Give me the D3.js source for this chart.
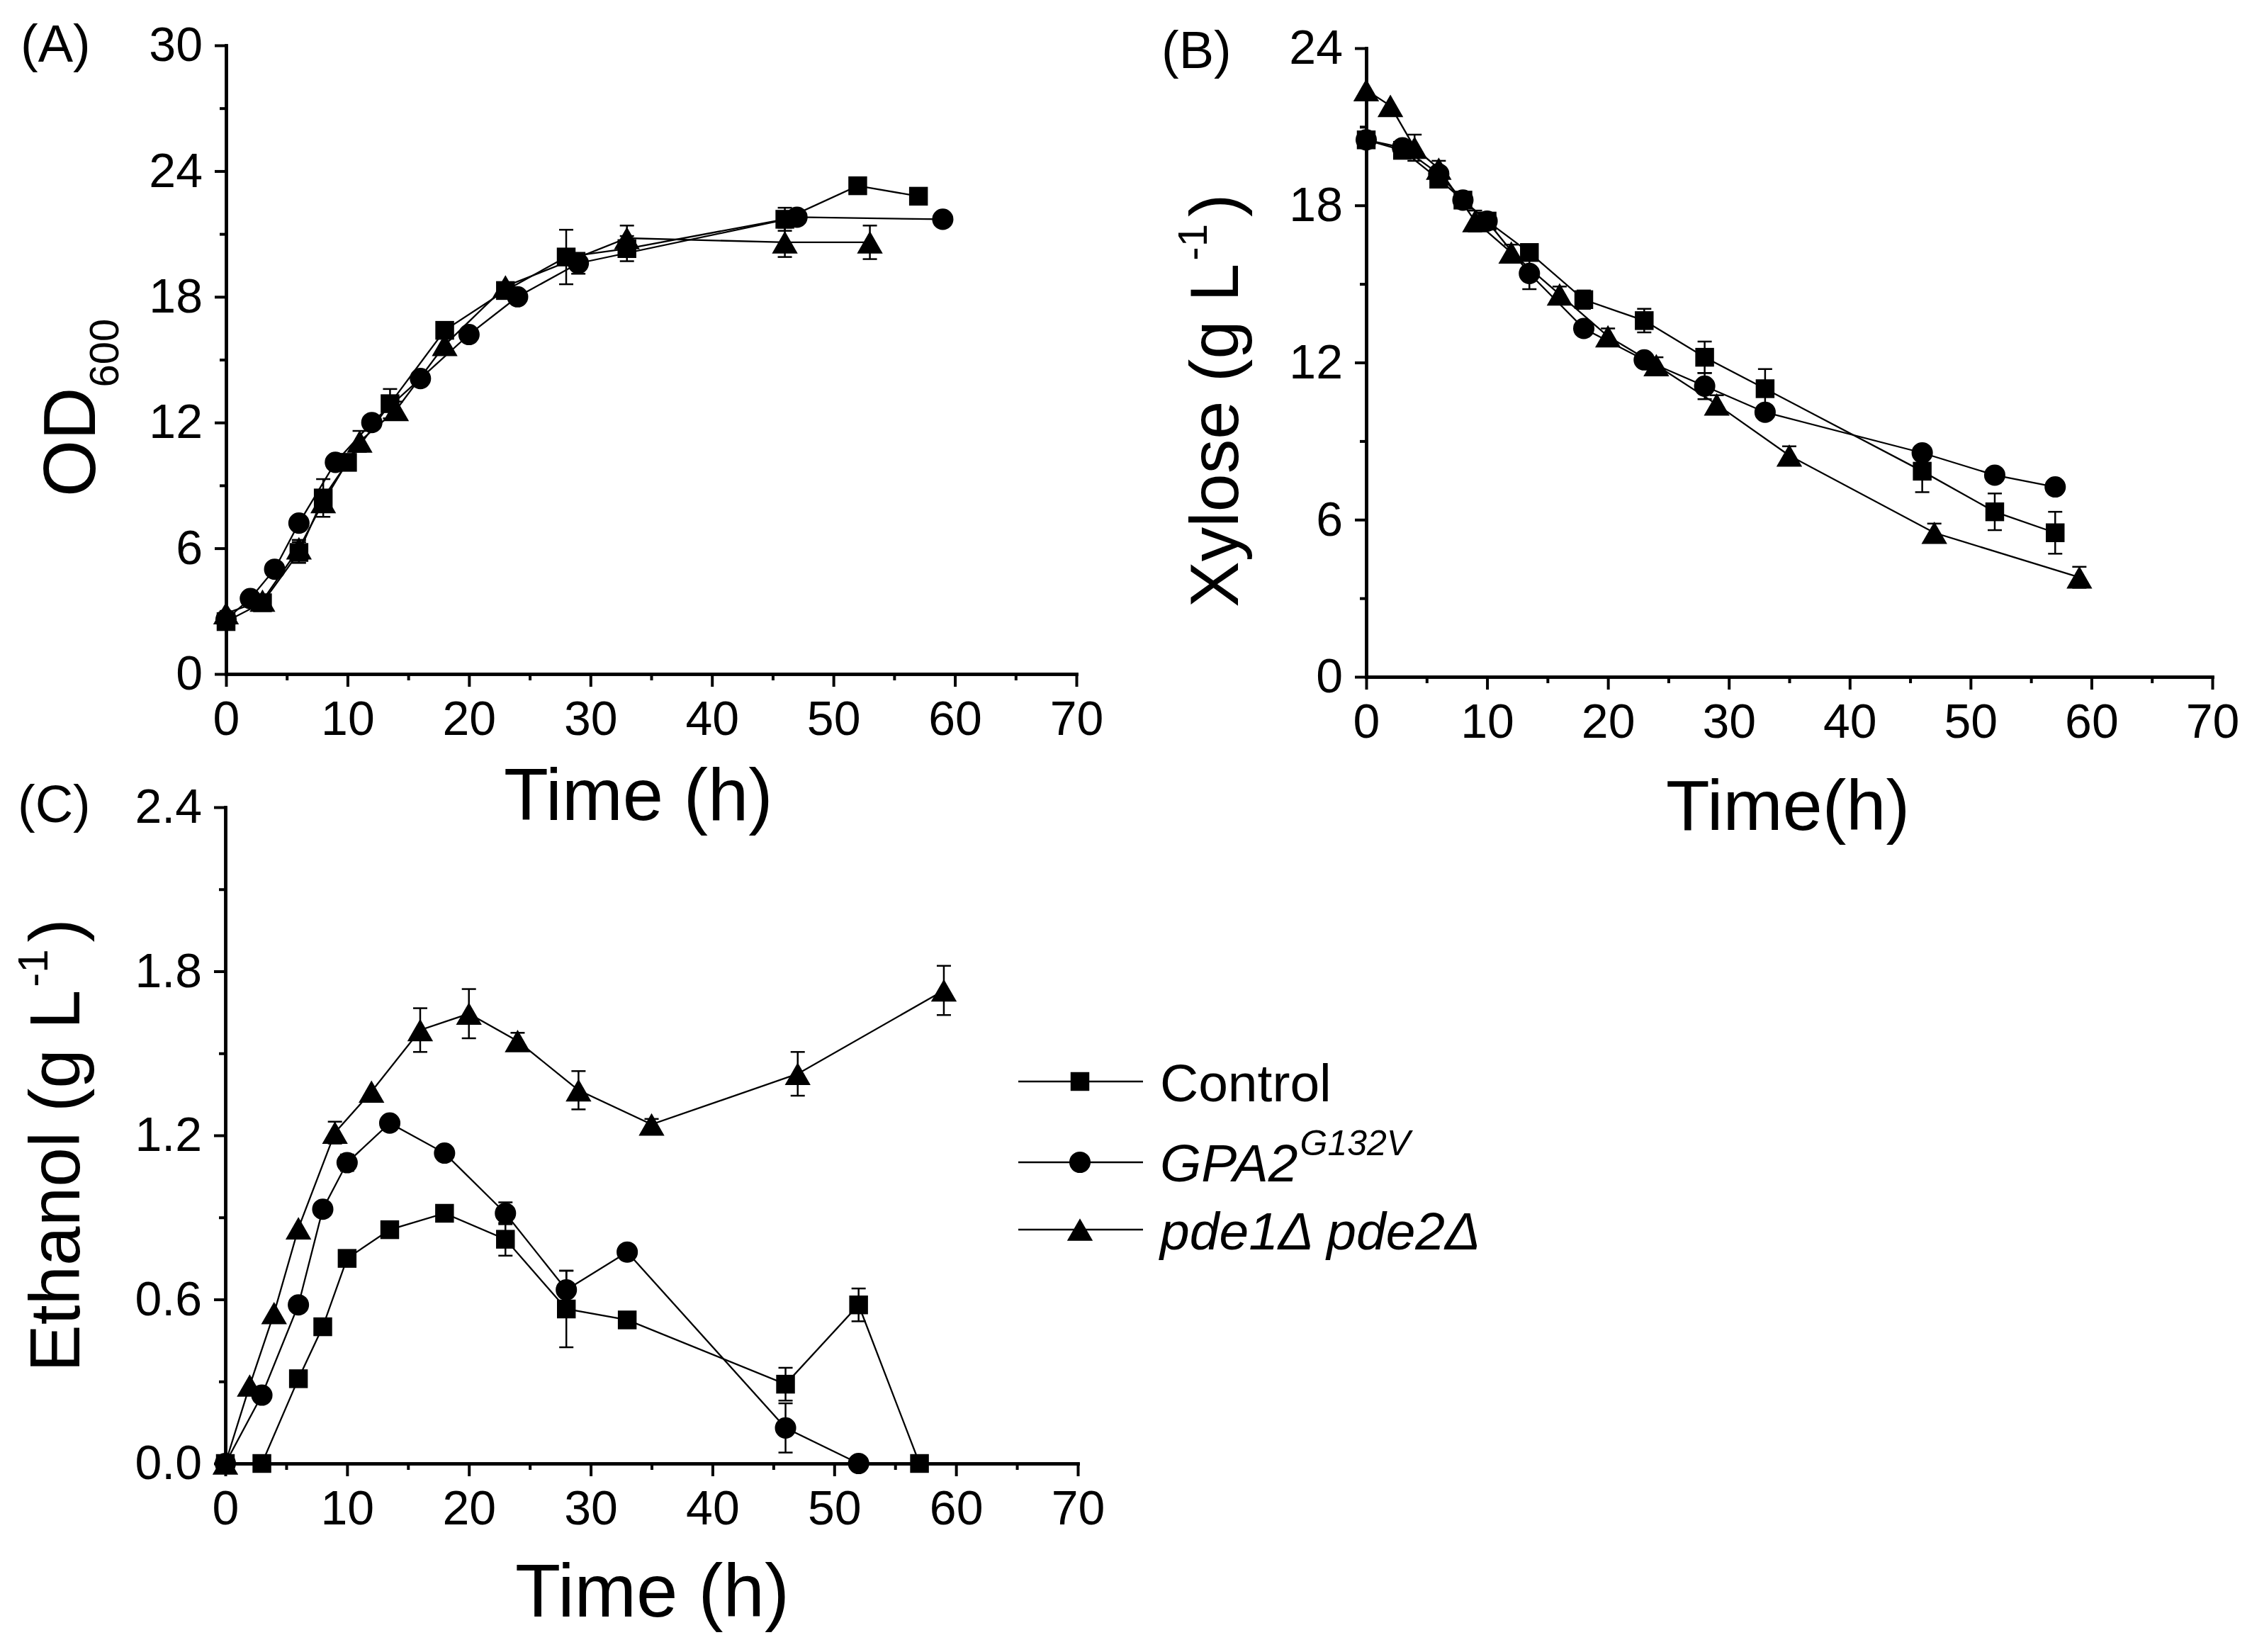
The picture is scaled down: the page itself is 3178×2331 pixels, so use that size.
<!DOCTYPE html>
<html>
<head>
<meta charset="utf-8">
<script src="https://cdn.jsdelivr.net/npm/d3@7"></script>
<style>
  body { margin: 0; background: #fff; }
  svg { display: block; font-family: "Liberation Sans", Arial, sans-serif; }
</style>
</head>
<body>
<script>
// Time axis ticks (shared)
const timeTicks = [0, 10, 20, 30, 40, 50, 60, 70];

// (A) OD600
const odTicks = [0, 6, 12, 18, 24, 30];
const odCtrlT = [0, 3, 6, 8, 10, 13.5, 18, 23, 28, 33, 46, 52, 57];
const odCtrl = [2.5, 3.4, 5.8, 8.4, 10.1, 12.9, 16.4, 18.3, 19.9, 20.3, 21.7, 23.3, 22.8];
const odCtrlErr = [0, 0, 0.5, 0.9, 0, 0.7, 0, 0, 1.3, 0.6, 0.55, 0, 0];
const odGpaT = [0, 2, 4, 6, 9, 12, 16, 20, 24, 29, 47, 59];
const odGpa = [2.6, 3.6, 5.0, 7.2, 10.1, 12.0, 14.1, 16.2, 18.0, 19.6, 21.8, 21.7];
const odGpaErr = [0, 0, 0, 0, 0, 0, 0, 0, 0, 0.5, 0, 0];
const odPdeT = [0, 3, 6, 8, 11, 14, 18, 23, 33, 46, 53];
const odPde = [2.9, 3.5, 6.0, 8.2, 11.1, 12.6, 15.7, 18.5, 20.8, 20.6, 20.6];
const odPdeErr = [0, 0, 0.4, 0, 0.5, 0.4, 0, 0, 0.6, 0.7, 0.8];

// (B) Xylose
const xylTicks = [0, 6, 12, 18, 24];
const xylCtrlT = [0, 3, 6, 8, 10, 13.5, 18, 23, 28, 33, 46, 52, 57];
const xylCtrl = [20.5, 20.1, 19.0, 18.2, 17.4, 16.2, 14.4, 13.6, 12.2, 11.0, 7.85, 6.3, 5.5];
const xylCtrlErr = [0, 0.3, 0, 0, 0, 0, 0.35, 0.45, 0.6, 0.75, 0.8, 0.7, 0.8];
const xylGpaT = [0, 3, 6, 8, 10, 13.5, 18, 23, 28, 33, 46, 52, 57];
const xylGpa = [20.5, 20.2, 19.2, 18.2, 17.4, 15.4, 13.3, 12.1, 11.1, 10.1, 8.55, 7.7, 7.25];
const xylGpaErr = [0, 0, 0, 0, 0, 0.6, 0, 0, 0.5, 0, 0, 0, 0];
const xylPdeT = [0, 2, 4, 6, 9, 12, 16, 20, 24, 29, 35, 47, 59];
const xylPde = [22.4, 21.8, 20.2, 19.4, 17.4, 16.2, 14.6, 13.0, 11.9, 10.4, 8.45, 5.5, 3.8];
const xylPdeErr = [0, 0, 0.5, 0.3, 0.4, 0.3, 0.3, 0.3, 0.3, 0.35, 0.35, 0.35, 0.4];

// (C) Ethanol
const ethTicks = [0, 0.6, 1.2, 1.8, 2.4];
const ethCtrlT = [0, 3, 6, 8, 10, 13.5, 18, 23, 28, 33, 46, 52, 57];
const ethCtrl = [0, 0, 0.31, 0.50, 0.75, 0.855, 0.915, 0.82, 0.565, 0.525, 0.29, 0.58, 0];
const ethCtrlErr = [0, 0, 0, 0, 0, 0, 0, 0.06, 0.14, 0, 0.06, 0.06, 0];
const ethGpaT = [0, 3, 6, 8, 10, 13.5, 18, 23, 28, 33, 46, 52];
const ethGpa = [0, 0.25, 0.58, 0.93, 1.10, 1.245, 1.135, 0.915, 0.635, 0.773, 0.13, 0];
const ethGpaErr = [0, 0, 0, 0, 0.03, 0, 0, 0.04, 0.07, 0, 0.09, 0];
const ethPdeT = [0, 2, 4, 6, 9, 12, 16, 20, 24, 29, 35, 47, 59];
const ethPde = [0, 0.285, 0.55, 0.86, 1.21, 1.36, 1.585, 1.645, 1.545, 1.365, 1.24, 1.425, 1.73];
const ethPdeErr = [0, 0, 0, 0, 0.04, 0, 0.08, 0.09, 0.03, 0.07, 0.02, 0.08, 0.09];

// triangle centred on its bounding box
const boxTriangle = {
  draw(ctx, size) {
    const w = Math.sqrt(size * 2.32);
    const h = w * 0.87;
    ctx.moveTo(0, -h / 2);
    ctx.lineTo(w / 2, h / 2);
    ctx.lineTo(-w / 2, h / 2);
    ctx.closePath();
  }
};
const shapes = {
  ctrl: d3.symbol(d3.symbolSquare, 700),
  gpa: d3.symbol(d3.symbolCircle, 710),
  pde: d3.symbol(boxTriangle, 570)
};

const svg = d3.select("body").append("svg")
  .attr("width", 3178)
  .attr("height", 2331);

svg.append("rect").attr("width", 3178).attr("height", 2331).attr("fill", "#fff");

const zip = (t, v, e) => t.map((d, i) => ({ t: d, v: v[i], e: e[i] }));

const drawPanel = (p) => {
  let x = d3.scaleLinear().domain([0, 70]).range([p.left, p.right]);
  let y = d3.scaleLinear().domain([0, d3.max(p.yTicks)]).range([p.bottom, p.top]);
  let g = svg.append("g");

  // minor ticks
  let yMinor = d3.pairs(p.yTicks).map(([a, b]) => (a + b) / 2);
  let xMinor = d3.pairs(timeTicks).map(([a, b]) => (a + b) / 2);

  g.append("g")
    .attr("transform", `translate(${p.left},0)`)
    .call(d3.axisLeft(y).tickValues(yMinor).tickSize(9).tickSizeOuter(0).tickFormat(""));
  g.append("g")
    .attr("transform", `translate(0,${p.bottom})`)
    .call(d3.axisBottom(x).tickValues(xMinor).tickSize(9).tickSizeOuter(0).tickFormat(""));

  // major ticks + labels
  g.append("g")
    .attr("transform", `translate(${p.left},0)`)
    .call(d3.axisLeft(y).tickValues(p.yTicks).tickSize(16).tickPadding(17)
      .tickSizeOuter(0).tickFormat(p.fmt));
  g.append("g")
    .attr("transform", `translate(0,${p.bottom})`)
    .call(d3.axisBottom(x).tickValues(timeTicks).tickSize(18).tickPadding(20)
      .tickSizeOuter(0).tickFormat(d3.format("d")));

  g.selectAll(".domain").attr("stroke", "#000").attr("stroke-width", 4.5)
    .attr("stroke-linecap", "square");
  g.selectAll(".tick line").attr("stroke", "#000").attr("stroke-width", 4);
  g.selectAll(".tick text").attr("font-size", 68).attr("fill", "#000")
    .attr("font-family", "Liberation Sans, Arial, sans-serif");

  // series
  let line = d3.line().x(d => x(d.t)).y(d => y(d.v));
  p.series.forEach((s) => {
    let pts = zip(s.t, s.v, s.e);
    g.append("path")
      .attr("d", line(pts))
      .attr("fill", "none")
      .attr("stroke", "#000")
      .attr("stroke-width", 2.3);

    let bars = g.append("g").selectAll("g")
      .data(pts.filter(d => d.e > 0))
      .enter().append("g")
      .attr("stroke", "#000")
      .attr("stroke-width", 2.5);
    bars.append("line")
      .attr("x1", d => x(d.t)).attr("x2", d => x(d.t))
      .attr("y1", d => y(d.v - d.e)).attr("y2", d => y(d.v + d.e));
    bars.append("line")
      .attr("x1", d => x(d.t) - 10).attr("x2", d => x(d.t) + 10)
      .attr("y1", d => y(d.v + d.e)).attr("y2", d => y(d.v + d.e));
    bars.append("line")
      .attr("x1", d => x(d.t) - 10).attr("x2", d => x(d.t) + 10)
      .attr("y1", d => y(d.v - d.e)).attr("y2", d => y(d.v - d.e));

    g.append("g").selectAll("path")
      .data(pts)
      .enter().append("path")
      .attr("d", shapes[s.key])
      .attr("transform", d => `translate(${x(d.t)},${y(d.v)})`)
      .attr("fill", "#000");
  });

  // panel letter
  svg.append("text")
    .attr("x", p.letterX).attr("y", p.letterY)
    .attr("font-size", 74)
    .text(p.letter);
};

drawPanel({
  left: 319, right: 1519, top: 64, bottom: 951,
  yTicks: odTicks, fmt: d3.format("d"),
  letter: "(A)", letterX: 29, letterY: 87,
  series: [
    { key: "ctrl", t: odCtrlT, v: odCtrl, e: odCtrlErr },
    { key: "gpa", t: odGpaT, v: odGpa, e: odGpaErr },
    { key: "pde", t: odPdeT, v: odPde, e: odPdeErr }
  ]
});

drawPanel({
  left: 1928, right: 3122, top: 68, bottom: 955,
  yTicks: xylTicks, fmt: d3.format("d"),
  letter: "(B)", letterX: 1639, letterY: 96,
  series: [
    { key: "ctrl", t: xylCtrlT, v: xylCtrl, e: xylCtrlErr },
    { key: "gpa", t: xylGpaT, v: xylGpa, e: xylGpaErr },
    { key: "pde", t: xylPdeT, v: xylPde, e: xylPdeErr }
  ]
});

drawPanel({
  left: 318, right: 1521, top: 1139, bottom: 2065,
  yTicks: ethTicks, fmt: d3.format(".1f"),
  letter: "(C)", letterX: 25, letterY: 1160,
  series: [
    { key: "ctrl", t: ethCtrlT, v: ethCtrl, e: ethCtrlErr },
    { key: "gpa", t: ethGpaT, v: ethGpa, e: ethGpaErr },
    { key: "pde", t: ethPdeT, v: ethPde, e: ethPdeErr }
  ]
});

// X axis titles
svg.append("text").attr("x", 711).attr("y", 1157).attr("font-size", 103).text("Time (h)");
svg.append("text").attr("x", 2351).attr("y", 1171).attr("font-size", 101).text("Time(h)");
svg.append("text").attr("x", 727).attr("y", 2281).attr("font-size", 105).text("Time (h)");

// Y axis titles
let od = svg.append("text")
  .attr("transform", "translate(134,701) rotate(-90)")
  .attr("font-size", 103);
od.append("tspan").text("OD");
od.append("tspan").attr("font-size", 58).attr("dy", 33).text("600");

const unitTitle = (tx, ty, size, name) => {
  let t = svg.append("text")
    .attr("transform", `translate(${tx},${ty}) rotate(-90)`)
    .attr("font-size", size);
  t.append("tspan").text(name + " (g L");
  t.append("tspan").attr("font-size", size * 0.6).attr("dy", -size * 0.45).attr("dx", 4).text("-1");
  t.append("tspan").attr("dy", size * 0.45).attr("dx", 10).text(")");
};
unitTitle(1747, 857, 97, "Xylose");
unitTitle(112, 1936, 100, "Ethanol");

// Legend
const legendKeys = ["ctrl", "gpa", "pde"];
const legendY = [1526, 1640, 1735];
let lg = svg.append("g");
legendKeys.forEach((k, i) => {
  lg.append("line")
    .attr("x1", 1437).attr("x2", 1613)
    .attr("y1", legendY[i]).attr("y2", legendY[i])
    .attr("stroke", "#000").attr("stroke-width", 2.5);
  lg.append("path")
    .attr("d", shapes[k])
    .attr("transform", `translate(1524,${legendY[i]})`)
    .attr("fill", "#000");
});
lg.append("text").attr("x", 1637).attr("y", 1554).attr("font-size", 75).text("Control");
let gpaLabel = lg.append("text").attr("x", 1637).attr("y", 1667)
  .attr("font-size", 75).attr("font-style", "italic");
gpaLabel.append("tspan").text("GPA2");
gpaLabel.append("tspan").attr("font-size", 50).attr("dy", -37).attr("dx", 3).text("G132V");
lg.append("text").attr("x", 1637).attr("y", 1763).attr("font-size", 75)
  .attr("font-style", "italic").text("pde1\u0394 pde2\u0394");
</script>
</body>
</html>
